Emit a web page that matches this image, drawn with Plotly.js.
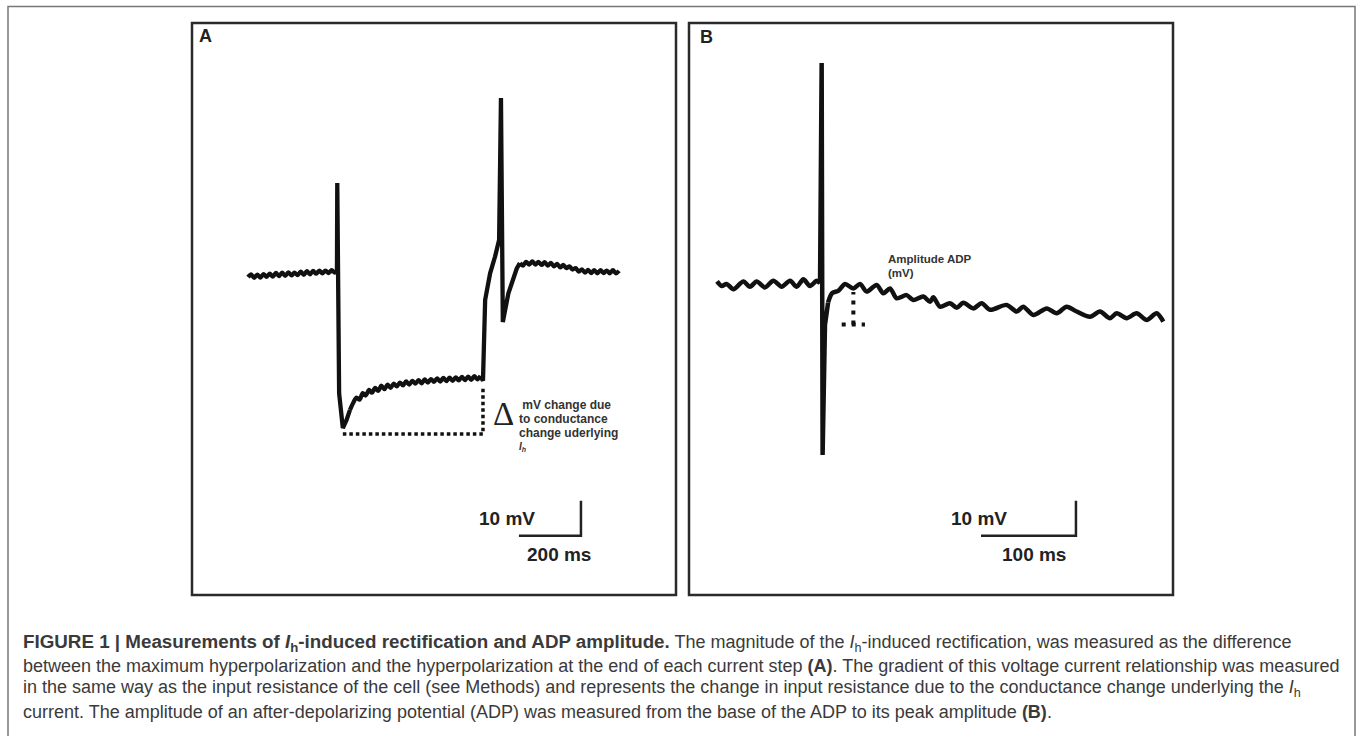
<!DOCTYPE html>
<html>
<head>
<meta charset="utf-8">
<script src="https://cdn.plot.ly/plotly-3.0.1.min.js"></script>
<style>
html,body{margin:0;padding:0;background:#fff;}
#chart{width:1357px;height:736px;}
</style>
</head>
<body>
<div id="chart"></div>
<script>
// ---------- Panel A: hyperpolarizing step (time in ms, membrane potential in mV) ----------
const timeA = [0,10,20,30,40,50,60,70,80,90,100,110,120,130,140,150,160,170,180,190,200,210,220,230,240,250,260,270,280,287,
  288,294,306,318,329,340,350,360,370,380,390,400,410,420,430,440,450,460,470,480,490,500,510,520,530,540,550,560,570,580,590,
  600,610,620,630,640,650,660,670,680,690,700,710,720,730,740,750,758,765,781,797,810,816,822,840,851,867,877,
  887,897,907,917,927,937,947,957,967,977,987,997,1007,1017,1027,1037,1047,1057,1067,1077,1087,1097,1107,1117,1127,1137,1147,1157,1167,1177,1187,1197];
const voltA = [-66.2,-65.4,-66.4,-65.5,-66.3,-65.3,-66.1,-65.2,-66.0,-65.0,-65.9,-64.9,-65.8,-64.8,-65.7,-64.9,-65.6,-64.6,-65.5,-64.5,-65.4,-64.4,-65.2,-64.3,-65.1,-64.3,-65.0,-64.2,-64.9,-64.5,
  -39.3,-99.4,-109.3,-107.0,-104.1,-102.0,-100.6,-101.2,-99.3,-100.0,-98.4,-99.2,-97.8,-98.7,-97.2,-98.2,-96.9,-97.8,-96.6,-97.4,-96.3,-97.1,-96.0,-96.9,-95.8,-96.6,-95.6,-96.5,-95.4,-96.3,-95.3,
  -96.1,-95.1,-96.0,-95.0,-95.9,-94.9,-95.8,-94.8,-95.7,-94.7,-95.6,-94.6,-95.5,-94.5,-95.4,-94.4,-95.8,-72.7,-65.1,-60.3,-55.6,-15.0,-79.0,-70.8,-68.0,-63.7,-62.2,
  -62.9,-61.8,-62.6,-61.7,-62.6,-61.8,-62.7,-61.9,-62.9,-62.1,-63.1,-62.4,-63.4,-62.7,-63.6,-63.1,-64.0,-63.6,-64.6,-64.0,-64.9,-64.1,-65.0,-64.2,-65.1,-64.2,-65.0,-64.3,-65.1,-64.2,-65.1,-64.4];
// measurement of Ih rectification: peak hyperpolarization vs end of step
const rectTime = [306, 758];       // ms: time of peak, end of step
const rectVolt = [-111.0, -97.9];  // mV: level of the peak marker, level at end of step

// ---------- Panel B: action potential and ADP ----------
const timeB = [0,4.9,10.2,17.2,27.7,34.7,41.8,50.5,59.3,68.1,76.9,83.9,90.9,97.9,105.0,108.5,110.2,111.2,113.7,117,
  121,128,134.8,143.6,150.6,157.6,168.1,175.2,182.2,189.2,199.7,206.7,217.3,224.3,227.8,234.8,245.3,252.4,259.4,269.9,
  278.7,287.5,305.0,315.6,322.5,333.1,347.2,357.7,368.2,378.8,392.8,403.3,413.8,420.9,431.4,441.9,452.5,463.0,470.0];
const voltB = [-64.0,-65.3,-64.7,-66.2,-64.0,-65.5,-64.0,-65.7,-63.8,-65.5,-63.8,-65.5,-63.4,-65.3,-63.8,-64.5,-1.6,-113.6,-76.4,-70.0,
  -67.4,-66.6,-64.7,-66.0,-64.7,-66.9,-65.0,-67.4,-66.0,-68.8,-67.9,-69.3,-68.3,-69.8,-68.5,-71.2,-70.2,-71.5,-70.1,-71.7,
  -70.2,-72.1,-70.7,-72.6,-71.2,-73.6,-71.7,-73.1,-71.2,-72.6,-74.1,-72.6,-74.5,-73.1,-74.5,-73.1,-75.0,-73.1,-75.5];
// ADP amplitude marker: base span (ms), base level and peak level (mV)
const adpTime = [131.3, 143.6, 155.8];
const adpVolt = [-76.3, -67.0];

// ---------- Scale bars ----------
const scaleA = [874, -140.1];   // origin (ms, mV)
const scaleAms = 200, scaleAmV = 10;
const scaleB = [278, -136.7];
const scaleBms = 100, scaleBmV = 10;

// ---------- Text ----------
const rectLabel = [" mV change due", "to conductance", "change uderlying", "<i>I<sub>h</sub></i>"];
const adpLabel = ["Amplitude ADP", "(mV)"];
const captionLines = [
  "<span style=\"font-size:18.8px\"><b>FIGURE 1 | Measurements of <i>I</i><sub>h</sub>-induced rectification and ADP amplitude.</b></span> The magnitude of the <i>I</i><sub>h</sub>-induced rectification, was measured as the difference",
  "between the maximum hyperpolarization and the hyperpolarization at the end of each current step <b>(A)</b>. The gradient of this voltage current relationship was measured",
  "in the same way as the input resistance of the cell (see Methods) and represents the change in input resistance due to the conductance change underlying the <i>I</i><sub>h</sub>",
  "current. The amplitude of an after-depolarizing potential (ADP) was measured from the base of the ADP to its peak amplitude <b>(B)</b>."
];

// ---------- Build ----------
const W = 1357, H = 736;
const px = x => x / W;
const py = y => 1 - y / H;
const ink = '#111';

// a recording is drawn as consecutive segments: smooth for the noisy baseline, straight for the fast transients
function segments(t, v, cuts, xa, ya, width) {
  const out = [];
  for (let i = 0; i < cuts.length - 1; i++) {
    const a = cuts[i][0], b = cuts[i + 1][0];
    out.push({x: t.slice(a, b + 1), y: v.slice(a, b + 1), xaxis: xa, yaxis: ya, mode: 'lines',
      line: {color: ink, width: width, shape: cuts[i][1] ? 'spline' : 'linear', smoothing: 0.8}, hoverinfo: 'skip'});
  }
  return out;
}
const lastA = timeA.length - 1, lastB = timeB.length - 1;
const traces = [].concat(
  segments(timeA, voltA, [[0, true], [29, false], [34, true], [76, false], [87, true], [lastA, false]], 'x', 'y', 4.3),
  [{x: [rectTime[0], rectTime[1], rectTime[1]], y: [rectVolt[0], rectVolt[0], rectVolt[1]], xaxis: 'x', yaxis: 'y',
    mode: 'lines', line: {color: ink, width: 3.5, dash: '3.5px,3px'}, hoverinfo: 'skip'},
   {x: [scaleA[0], scaleA[0] + scaleAms, scaleA[0] + scaleAms], y: [scaleA[1], scaleA[1], scaleA[1] + scaleAmV],
    xaxis: 'x', yaxis: 'y', mode: 'lines', line: {color: '#222', width: 2.5}, hoverinfo: 'skip'}],
  segments(timeB, voltB, [[0, true], [15, false], [19, true], [lastB, false]], 'x2', 'y2', 4.5),
  [{x: [adpTime[0], adpTime[2], null, adpTime[1], adpTime[1]], y: [adpVolt[0], adpVolt[0], null, adpVolt[0], adpVolt[1]],
    xaxis: 'x2', yaxis: 'y2', mode: 'lines', line: {color: ink, width: 4, dash: '4px,6px'}, hoverinfo: 'skip'},
   {x: [scaleB[0], scaleB[0] + scaleBms, scaleB[0] + scaleBms], y: [scaleB[1], scaleB[1], scaleB[1] + scaleBmV],
    xaxis: 'x2', yaxis: 'y2', mode: 'lines', line: {color: '#222', width: 2.5}, hoverinfo: 'skip'}]
);

const sans = 'Liberation Sans, Arial, sans-serif';
const annotations = [];
function addText(text, x, y, size, opts) {
  annotations.push(Object.assign({
    text: text, x: px(x), y: py(y), xref: 'paper', yref: 'paper', showarrow: false,
    xanchor: 'left', yanchor: 'middle', font: {family: sans, size: size, color: '#222'}
  }, opts || {}));
}
addText('<b>A</b>', 197, 36, 18);
addText('<b>B</b>', 698, 37, 18);
addText('<b>10 mV</b>', 507.5, 518, 19, {xanchor: 'center'});
addText('<b>' + scaleAms + ' ms</b>', 558.5, 554, 19, {xanchor: 'center'});
addText('<b>10 mV</b>', 979, 518, 19, {xanchor: 'center'});
addText('<b>' + scaleBms + ' ms</b>', 1034, 554, 19, {xanchor: 'center'});
addText('Δ', 503.5, 414, 33, {xanchor: 'center', font: {family: 'Liberation Serif, Times New Roman, serif', size: 33, color: '#222'}});
const rectY = [405, 419, 432.5, 446.5];
rectLabel.forEach((t, i) => addText('<b>' + t + '</b>', 517, rectY[i], i === 3 ? 10 : 12, {font: {family: sans, size: i === 3 ? 10 : 12, color: '#333'}}));
addText('<b>' + adpLabel[0] + '</b>', 886, 259, 11.5, {font: {family: sans, size: 11.5, color: '#333'}});
addText('<b>' + adpLabel[1] + '</b>', 886, 273, 11.5, {font: {family: sans, size: 11.5, color: '#333'}});
const capY = [643, 665.5, 688.5, 711.5];
captionLines.forEach((t, i) => addText(t, 21, capY[i], 18, {font: {family: sans, size: 18, color: '#3a3a3a'}}));

const shapes = [
  {type: 'rect', xref: 'paper', yref: 'paper', x0: px(8), x1: px(1355), y0: py(760), y1: py(6.5), line: {color: '#777', width: 1.5}},
  {type: 'rect', xref: 'paper', yref: 'paper', x0: px(192), x1: px(676), y0: py(595), y1: py(23), line: {color: '#2a2a2a', width: 2.5}},
  {type: 'rect', xref: 'paper', yref: 'paper', x0: px(689), x1: px(1173), y0: py(595), y1: py(23), line: {color: '#2a2a2a', width: 2.5}}
];

const hidden = {visible: false, fixedrange: true, showgrid: false, zeroline: false};
const layout = {
  width: W, height: H, margin: {l: 0, r: 0, t: 0, b: 0},
  paper_bgcolor: '#fff', plot_bgcolor: 'rgba(0,0,0,0)', showlegend: false,
  xaxis: Object.assign({domain: [px(192), px(676)], range: [-180.6, 1380.6], anchor: 'y'}, hidden),
  yaxis: Object.assign({domain: [py(595), py(23)], range: [-157.0, 6.43], anchor: 'x'}, hidden),
  xaxis2: Object.assign({domain: [px(689), px(1173)], range: [-29.5, 480.2], anchor: 'y2'}, hidden),
  yaxis2: Object.assign({domain: [py(595), py(23)], range: [-153.6, 9.86], anchor: 'x2'}, hidden),
  shapes: shapes, annotations: annotations
};
Plotly.newPlot('chart', traces, layout, {displayModeBar: false, staticPlot: true});
</script>
</body>
</html>
